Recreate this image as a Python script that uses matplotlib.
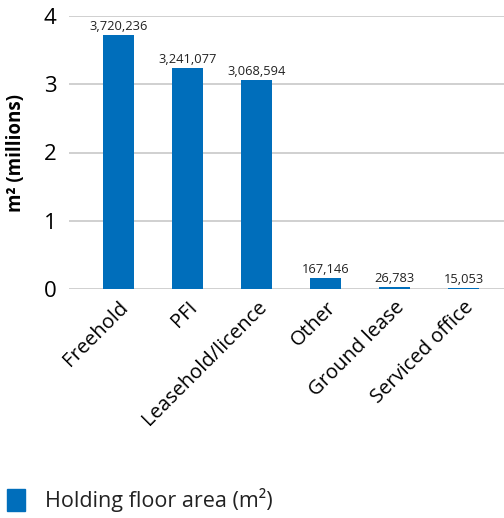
import matplotlib
matplotlib.use("Agg")
import matplotlib.pyplot as plt
from matplotlib.patches import Rectangle

categories = ["Freehold", "PFI", "Leasehold/licence", "Other", "Ground lease", "Serviced office"]
values = [3720236, 3241077, 3068594, 167146, 26783, 15053]
yticks = [0, 1, 2, 3, 4]

plt.rcParams['font.family'] = ['Open Sans', 'DejaVu Sans']
blue = "#006EBB"
grid = "#C8C8C8"

W, H = 504, 518
fig = plt.figure(figsize=(W/100, H/100), dpi=100)
left, right, bottom, top = 69, 504, 289, 16
ax = fig.add_axes([left/W, 1-bottom/H, (right-left)/W, (bottom-top)/H])

x = list(range(len(categories)))
vals_m = [v/1e6 for v in values]
ax.bar(x, vals_m, width=0.45, color=blue, zorder=3)
for xi, v, vm in zip(x, values, vals_m):
    ax.text(xi, vm + 0.03, f"{v:,}", ha="center", va="bottom", fontsize=9.3, color="#222222", zorder=4)

ax.set_ylim(0, 4)
ax.set_xlim(-0.717, 5.58)
ax.set_yticks(yticks)
ax.set_yticklabels([str(t) for t in yticks], fontsize=16)
for t in yticks:
    ax.axhline(t, color=grid, lw=1.2, zorder=1)
ax.set_xticks(x)
ax.set_xticklabels(categories, rotation=45, ha="right", rotation_mode="anchor", fontsize=14.5)
ax.tick_params(axis="both", length=0)
ax.tick_params(axis="x", pad=6)
ax.tick_params(axis="y", pad=9)
for s in ax.spines.values():
    s.set_visible(False)
ax.set_ylabel("m² (millions)", fontsize=13.5, fontweight="bold")
ax.yaxis.set_label_coords(-0.099, 0.5)

# legend
fig.patches.append(Rectangle((7/W, 1-511/H), 18/W, 22/H, transform=fig.transFigure, color=blue))
fig.text(45/W, 1-500/H, "Holding floor area (m²)", fontsize=15.5, va="center", ha="left", color="#222222")

fig.savefig("out.png", dpi=100)
